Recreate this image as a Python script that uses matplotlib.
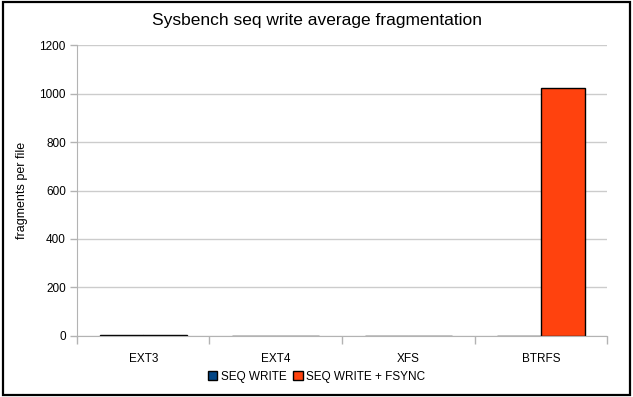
import matplotlib
matplotlib.use("Agg")
import matplotlib.pyplot as plt
from matplotlib.patches import Rectangle
import numpy as np

categories = ["EXT3", "EXT4", "XFS", "BTRFS"]
seq_write = [5, 1, 1, 1]
seq_write_fsync = [5, 1, 1, 1023]
series_names = ["SEQ WRITE", "SEQ WRITE + FSYNC"]
y_ticks = [0, 200, 400, 600, 800, 1000, 1200]

blue = "#004586"
orange = "#ff420e"
grid_gray = "#b3b3b3"

plt.rcParams["font.family"] = ["Liberation Sans", "DejaVu Sans"]

fig = plt.figure(figsize=(6.33, 3.97), dpi=100)
ax = fig.add_axes([0.1216, 0.1537, 0.8374, 0.7329])

x = np.arange(len(categories))
width = 0.33
ax.bar(x - width / 2, seq_write, width, color=blue, edgecolor="black", linewidth=1, label=series_names[0], zorder=3)
ax.bar(x + width / 2, seq_write_fsync, width, color=orange, edgecolor="black", linewidth=1, label=series_names[1], zorder=3)

ax.set_xlim(-0.5, len(categories) - 0.5)
ax.set_ylim(0, 1200)
ax.set_yticks(y_ticks)
ax.tick_params(axis="y", labelsize=8.5, length=5, color=grid_gray, width=1, pad=3)

# category boundaries as major ticks, labels on minor ticks
ax.set_xticks(np.arange(len(categories) + 1) - 0.5)
ax.set_xticklabels([])
ax.set_xticks(x, minor=True)
ax.set_xticklabels(categories, minor=True)
ax.tick_params(axis="x", which="major", length=6, color=grid_gray, width=1, direction="out")
ax.tick_params(axis="x", which="minor", length=0, labelsize=8.5, pad=12)

ax.grid(axis="y", color="#cccccc", linewidth=1, zorder=0)
for side in ["top", "right"]:
    ax.spines[side].set_visible(False)
for side in ["left", "bottom"]:
    ax.spines[side].set_color(grid_gray)
    ax.spines[side].set_zorder(4)

fig.text(22 / 633, 1 - 190 / 397, "fragments per file", rotation=90, ha="center", va="center", fontsize=9)
fig.text(0.5, 1 - 20 / 397, "Sysbench seq write average fragmentation", ha="center", va="center", fontsize=12.5)

# legend is centred on the whole figure, not the axes
handles, labels = ax.get_legend_handles_labels()
fig.legend(handles, labels, loc="center", bbox_to_anchor=(0.5, 1 - 377 / 397), ncol=2, frameon=False,
           fontsize=8.5, handlelength=0.8, handleheight=0.8, handletextpad=0.3, columnspacing=0.6)

# outer frame round the whole chart
fig.patches.append(Rectangle((0.004, 0.006), 0.992, 0.99, transform=fig.transFigure,
                             fill=False, edgecolor="black", linewidth=1.6))

fig.savefig("out.png", dpi=100)
